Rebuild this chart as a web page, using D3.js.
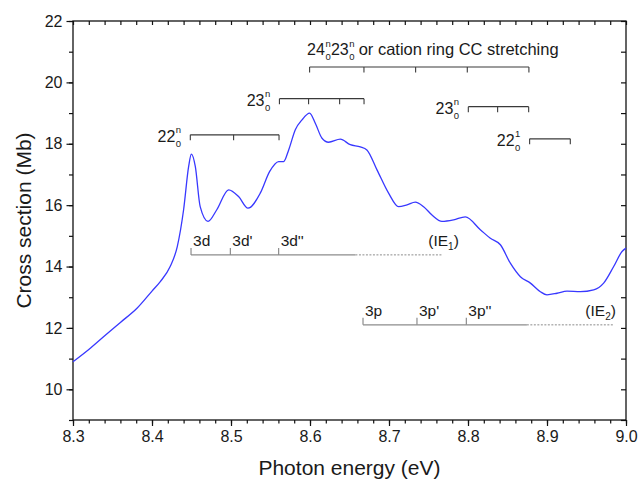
<!DOCTYPE html>
<html>
<head>
<meta charset="utf-8">
<script src="https://cdn.jsdelivr.net/npm/d3@7"></script>
<style>
  body { margin: 0; background: #fff; }
  svg { display: block; }
  text { font-family: "Liberation Sans", Arial, sans-serif; fill: #1a1a1a; }
</style>
</head>
<body>
<div id="chart"></div>
<script>
// photoabsorption cross section
const energy = [
  8.300, 8.320, 8.339, 8.360, 8.381, 8.400, 8.4105, 8.423, 8.432, 8.440,
  8.4464, 8.4498, 8.4548, 8.461, 8.4709, 8.482, 8.497, 8.5096, 8.5215, 8.537,
  8.549, 8.5603, 8.5666, 8.573, 8.5814, 8.5899, 8.5995, 8.6067, 8.6152, 8.6235,
  8.6384, 8.651, 8.6637, 8.672, 8.6848, 8.6995, 8.7121, 8.7228, 8.7333, 8.7438,
  8.7544, 8.7671, 8.7818, 8.7966, 8.8156, 8.8283, 8.841, 8.8536, 8.8663, 8.879,
  8.8916, 8.900, 8.9127, 8.9253, 8.9422, 8.9591, 8.9717, 8.9844, 8.995, 9.000
];
const crossSection = [
  10.90, 11.30, 11.72, 12.18, 12.64, 13.20, 13.51, 14.00, 14.65, 15.85,
  17.26, 17.66, 17.26, 15.95, 15.47, 15.85, 16.50, 16.28, 15.90, 16.39,
  17.10, 17.42, 17.42, 17.80, 18.46, 18.78, 19.00, 18.67, 18.18, 18.05,
  18.15, 17.97, 17.90, 17.80, 17.15, 16.39, 15.95, 16.01, 16.10, 15.95,
  15.68, 15.47, 15.52, 15.62, 15.20, 14.92, 14.71, 14.11, 13.67, 13.46,
  13.18, 13.08, 13.13, 13.20, 13.18, 13.24, 13.46, 14.00, 14.49, 14.60
];

const xTicks = [8.3, 8.4, 8.5, 8.6, 8.7, 8.8, 8.9, 9.0];
const yTicks = [10, 12, 14, 16, 18, 20, 22];

// vibrational progressions (comb energies in eV, comb level in Mb)
const combs = [
  { main: "22", sub: "0", sup: "n", at: [8.4485, 8.5033, 8.5608], level: 18.29 },
  { main: "23", sub: "0", sup: "n", at: [8.5613, 8.5982, 8.6375, 8.6684], level: 19.47 },
  { main: "23", sub: "0", sup: "n", at: [8.8004, 8.8375, 8.8768], level: 19.21 },
  { main: "22", sub: "0", sup: "1", at: [8.878, 8.9295], level: 18.16 }
];
const ringComb = [8.5995, 8.6683, 8.7337, 8.7991, 8.8771];
const ringLevel = 20.50;

// Rydberg series: members, solid end, dashed end (limit), label position
const rydberg = [
  { labels: ["3d", "3d'", "3d''"], at: [8.4494, 8.4992, 8.5603], solidEnd: 8.6575,
    limitEnd: 8.767, limit: "1", limitLabelAt: 8.7497, level: 14.38 },
  { labels: ["3p", "3p'", "3p''"], at: [8.6671, 8.7354, 8.7979], solidEnd: 8.8745,
    limitEnd: 8.984, limit: "2", limitLabelAt: 8.9485, level: 12.1 }
];

const width = 638, height = 481;
const margin = { top: 21, right: 12, bottom: 61, left: 73 };

const svg = d3.select("#chart").append("svg")
  .attr("width", width)
  .attr("height", height);

const x = d3.scaleLinear().domain([8.3, 9.0]).range([margin.left, width - margin.right]);
const y = d3.scaleLinear().domain([9, 22]).range([height - margin.bottom, margin.top]);

const xMinor = d3.range(8.3, 9.0001, 0.02).map(d => +d.toFixed(2));
const yMinor = d3.range(9, 22.001, 1);

function styleAxis(g) {
  g.select(".domain").remove();
  g.selectAll("line").attr("stroke", "#111").attr("stroke-width", 1.2);
  g.selectAll("text").attr("fill", "#1a1a1a").style("font-size", "16px")
    .style("font-family", '"Liberation Sans", Arial, sans-serif');
}

// bottom
svg.append("g").attr("transform", `translate(0,${y(9)})`)
  .call(d3.axisBottom(x).tickValues(xMinor).tickSize(3.5).tickFormat(""))
  .call(styleAxis);
svg.append("g").attr("transform", `translate(0,${y(9)})`)
  .call(d3.axisBottom(x).tickValues(xTicks).tickSize(6).tickPadding(5).tickFormat(d3.format(".1f")))
  .call(styleAxis);
// left
svg.append("g").attr("transform", `translate(${x(8.3)},0)`)
  .call(d3.axisLeft(y).tickValues(yMinor).tickSize(4).tickFormat(""))
  .call(styleAxis);
svg.append("g").attr("transform", `translate(${x(8.3)},0)`)
  .call(d3.axisLeft(y).tickValues(yTicks).tickSize(6.5).tickPadding(4).tickFormat(d3.format("d")))
  .call(styleAxis);
// top (ticks inward)
svg.append("g").attr("transform", `translate(0,${y(22)})`)
  .call(d3.axisTop(x).tickValues(xMinor).tickSize(-4).tickFormat(""))
  .call(styleAxis);
// right (ticks inward)
svg.append("g").attr("transform", `translate(${x(9.0)},0)`)
  .call(d3.axisRight(y).tickValues(yMinor).tickSize(-5).tickFormat(""))
  .call(styleAxis);

svg.append("rect")
  .attr("x", x(8.3)).attr("y", y(22))
  .attr("width", x(9.0) - x(8.3)).attr("height", y(9) - y(22))
  .attr("fill", "none").attr("stroke", "#111").attr("stroke-width", 1.3);

// axis titles
svg.append("text")
  .attr("transform", `translate(31,${(y(22) + y(9)) / 2}) rotate(-90)`)
  .attr("text-anchor", "middle")
  .style("font-size", "21px")
  .text("Cross section (Mb)");
svg.append("text")
  .attr("x", (x(8.3) + x(9.0)) / 2).attr("y", 475)
  .attr("text-anchor", "middle")
  .style("font-size", "21px")
  .text("Photon energy (eV)");

// curve
const line = d3.line()
  .x((d, i) => x(energy[i]))
  .y(d => y(d))
  .curve(d3.curveMonotoneX);

svg.append("path")
  .datum(crossSection)
  .attr("d", line)
  .attr("fill", "none")
  .attr("stroke", "#3838ff")
  .attr("stroke-width", 1.3);

// Rydberg series markers
const ryd = svg.append("g");
rydberg.forEach(s => {
  const ly = y(s.level);
  ryd.append("line")
    .attr("x1", x(s.at[0])).attr("x2", x(s.solidEnd))
    .attr("y1", ly).attr("y2", ly)
    .attr("stroke", "#8c8c8c").attr("stroke-width", 1.2);
  ryd.append("line")
    .attr("x1", x(s.solidEnd)).attr("x2", x(s.limitEnd))
    .attr("y1", ly).attr("y2", ly)
    .attr("stroke", "#8c8c8c").attr("stroke-width", 1)
    .attr("stroke-dasharray", "2,1.5");
  s.at.forEach((e, i) => {
    ryd.append("line")
      .attr("x1", x(e)).attr("x2", x(e))
      .attr("y1", ly).attr("y2", ly - 7)
      .attr("stroke", "#8c8c8c").attr("stroke-width", 1.2);
    ryd.append("text")
      .attr("x", x(e) + 2).attr("y", ly - 9)
      .style("font-size", "15.5px")
      .text(s.labels[i]);
  });
  const t = ryd.append("text")
    .attr("x", x(s.limitLabelAt)).attr("y", ly - 9)
    .style("font-size", "15.5px");
  t.append("tspan").text("(IE");
  t.append("tspan").attr("dy", 4).style("font-size", "10px").text(s.limit);
  t.append("tspan").attr("dy", -4).text(")");
});

// progression combs
const combG = svg.append("g");

function drawComb(at, level) {
  const ly = y(level);
  combG.append("line")
    .attr("x1", x(at[0])).attr("x2", x(at[at.length - 1]))
    .attr("y1", ly).attr("y2", ly)
    .attr("stroke", "#3a3a3a").attr("stroke-width", 1.1);
  at.forEach(e => {
    combG.append("line")
      .attr("x1", x(e)).attr("x2", x(e))
      .attr("y1", ly).attr("y2", ly + 5.5)
      .attr("stroke", "#3a3a3a").attr("stroke-width", 1.1);
  });
}

// "main" with stacked subscript / superscript starting at px
function stacked(g, px, py, main, sub, sup, size) {
  const m = g.append("text").attr("x", px).attr("y", py)
    .style("font-size", size + "px").text(main);
  const w = m.node().getComputedTextLength();
  g.append("text").attr("x", px + w + 0.5).attr("y", py + 5)
    .style("font-size", "9.5px").text(sub);
  g.append("text").attr("x", px + w + 0.5).attr("y", py - 8.5)
    .style("font-size", "9.5px").text(sup);
  return w + 6;
}

combs.forEach(c => {
  drawComb(c.at, c.level);
  const ly = y(c.level);
  // label sits left of the comb
  const probe = combG.append("text").style("font-size", "16px").text(c.main);
  const w = probe.node().getComputedTextLength();
  probe.remove();
  stacked(combG, x(c.at[0]) - 9 - 6 - w, ly + 7, c.main, c.sub, c.sup, 16);
});

drawComb(ringComb, ringLevel);
{
  const ly = y(ringLevel) - 12;
  let px = x(ringComb[0]) - 2.5;
  px += stacked(combG, px, ly, "24", "0", "n", 16);
  px += stacked(combG, px, ly, "23", "0", "n", 16);
  combG.append("text").attr("x", px + 4).attr("y", ly)
    .style("font-size", "16.5px")
    .text("or cation ring CC stretching");
}
</script>
</body>
</html>
